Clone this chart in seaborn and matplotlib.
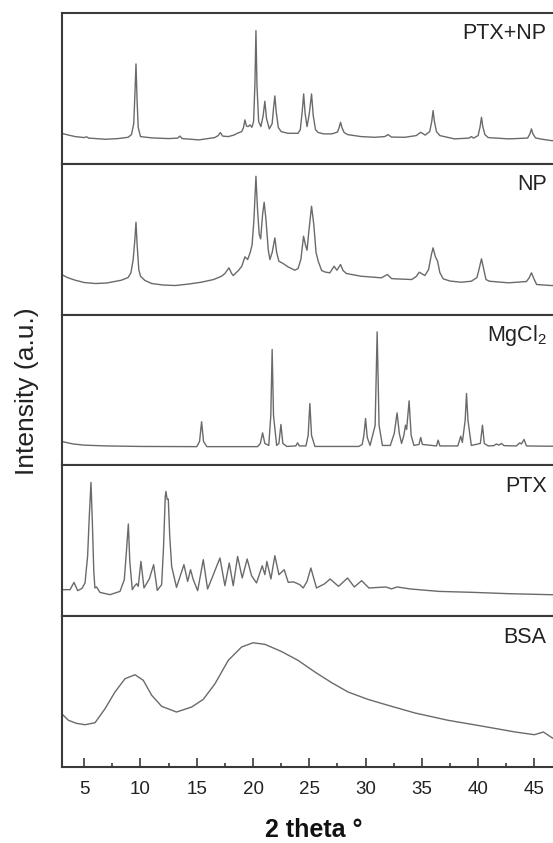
import matplotlib
matplotlib.use("Agg")
import matplotlib.pyplot as plt
from matplotlib.ticker import MultipleLocator
import seaborn as sns
import pandas as pd

# XRD patterns: (2 theta, intensity a.u.)
ptx_np = [
    (3.0, 30.3), (3.6, 28.5), (4.2, 27.0), (5.0, 26.0), (5.2, 26.8), (5.4, 25.5),
    (6.9, 24.3), (8.0, 25.0), (8.9, 26.3), (9.2, 29.0), (9.4, 40.0), (9.5, 68.0),
    (9.6, 99.7), (9.7, 62.0), (9.8, 36.0), (10.0, 27.0), (11.0, 25.7), (12.5, 25.0),
    (13.3, 25.5), (13.5, 27.5), (13.7, 25.0), (15.2, 23.7), (16.6, 26.0), (16.9, 28.0),
    (17.1, 31.0), (17.3, 27.5), (17.8, 27.0), (18.3, 28.5), (18.6, 30.3), (19.0, 32.0),
    (19.15, 36.0), (19.28, 43.7), (19.42, 37.5), (19.55, 37.0), (19.73, 38.7), (19.9, 36.3),
    (20.05, 42.0), (20.17, 80.0), (20.26, 133.0), (20.35, 78.0), (20.5, 42.0), (20.7, 37.0),
    (20.9, 48.0), (21.05, 62.3), (21.2, 45.0), (21.45, 34.7), (21.7, 40.0), (21.82, 55.0),
    (21.94, 67.7), (22.06, 52.0), (22.25, 36.0), (22.5, 32.0), (23.1, 30.3), (24.0, 30.3),
    (24.2, 34.0), (24.37, 52.0), (24.5, 69.7), (24.63, 50.0), (24.8, 37.0), (25.0, 50.0),
    (25.2, 69.7), (25.35, 48.0), (25.55, 34.0), (25.8, 31.0), (26.3, 29.7), (27.0, 29.7),
    (27.5, 31.5), (27.65, 36.0), (27.78, 41.3), (27.9, 36.0), (28.1, 31.0), (28.4, 29.0),
    (29.6, 27.0), (30.8, 26.3), (31.7, 27.0), (32.0, 29.0), (32.3, 26.5), (33.5, 26.3),
    (34.5, 28.0), (34.9, 31.3), (35.3, 28.5), (35.7, 32.0), (35.88, 42.0), (36.0, 53.0),
    (36.12, 42.0), (36.3, 32.0), (36.6, 28.0), (37.9, 24.7), (39.2, 25.5), (39.4, 27.0),
    (39.6, 25.5), (40.0, 28.0), (40.18, 37.0), (40.3, 46.3), (40.42, 37.0), (40.6, 29.0),
    (40.9, 26.0), (42.7, 24.7), (44.4, 25.5), (44.62, 30.0), (44.74, 34.7), (44.86, 30.0),
    (45.1, 25.7), (45.6, 24.5), (46.5, 23.0), (47.0, 22.8),
]

np_only = [
    (3.0, 40.0), (3.5, 37.0), (4.2, 34.3), (5.0, 32.0), (6.0, 31.0), (7.0, 31.5),
    (8.3, 34.3), (8.9, 37.0), (9.15, 41.7), (9.35, 55.0), (9.5, 75.0), (9.6, 92.3),
    (9.7, 70.0), (9.85, 45.0), (10.0, 38.3), (10.4, 34.0), (11.0, 31.0), (12.0, 29.5),
    (13.1, 29.0), (14.3, 30.5), (15.4, 32.3), (16.5, 35.0), (17.2, 38.3), (17.5, 41.0),
    (17.86, 46.7), (18.1, 41.0), (18.24, 39.0), (18.7, 44.0), (19.0, 48.3), (19.28, 57.7),
    (19.52, 55.0), (19.75, 62.0), (19.92, 70.0), (20.08, 95.0), (20.26, 138.3), (20.4, 105.0),
    (20.55, 80.0), (20.68, 75.7), (20.85, 100.0), (20.99, 112.3), (21.15, 95.0), (21.35, 65.0),
    (21.5, 55.0), (21.7, 62.0), (21.94, 76.7), (22.1, 62.0), (22.3, 53.3), (22.68, 51.0),
    (23.1, 47.7), (23.72, 44.3), (24.0, 46.0), (24.25, 55.0), (24.49, 78.3), (24.65, 70.0),
    (24.8, 64.3), (24.95, 82.0), (25.2, 108.3), (25.4, 90.0), (25.6, 62.0), (25.8, 53.0),
    (26.1, 44.0), (26.4, 42.5), (26.83, 41.7), (27.2, 48.3), (27.45, 44.3), (27.78, 50.0),
    (28.0, 44.0), (28.3, 41.0), (29.6, 38.3), (31.4, 36.7), (31.94, 40.0), (32.3, 36.0),
    (32.6, 35.7), (34.1, 35.0), (34.5, 38.0), (34.77, 42.3), (35.27, 39.0), (35.6, 45.0),
    (35.85, 60.0), (36.0, 66.7), (36.2, 58.0), (36.4, 53.3), (36.6, 42.0), (36.9, 35.7),
    (37.5, 33.5), (38.5, 32.3), (39.4, 33.3), (39.9, 37.0), (40.1, 46.0), (40.3, 55.7),
    (40.45, 48.0), (40.7, 35.0), (41.0, 33.3), (42.7, 31.7), (44.3, 33.0), (44.55, 37.0),
    (44.74, 41.7), (44.95, 36.0), (45.2, 30.0), (46.5, 29.0), (47.0, 29.0),
]

mgcl2 = [
    (3.0, 24.0), (4.0, 21.5), (5.0, 20.3), (7.0, 19.5), (10.0, 19.0), (15.0, 18.8),
    (15.25, 24.0), (15.43, 43.7), (15.6, 24.0), (15.9, 18.8), (20.4, 18.8), (20.65, 22.0),
    (20.85, 32.6), (21.05, 22.0), (21.4, 20.0), (21.58, 50.0), (21.7, 116.0), (21.82, 50.0),
    (22.1, 20.0), (22.3, 22.0), (22.48, 41.0), (22.65, 22.0), (23.0, 19.0), (23.8, 19.5),
    (23.96, 22.6), (24.12, 19.5), (24.7, 19.5), (24.9, 30.0), (25.05, 62.0), (25.2, 30.0),
    (25.5, 19.0), (29.4, 19.0), (29.7, 21.0), (29.85, 30.0), (30.0, 47.0), (30.15, 28.0),
    (30.4, 20.0), (30.85, 40.0), (31.03, 133.6), (31.2, 40.0), (31.5, 20.0), (32.2, 20.0),
    (32.55, 32.0), (32.8, 52.6), (33.0, 32.0), (33.2, 22.0), (33.4, 30.0), (33.55, 40.3),
    (33.65, 36.0), (33.87, 64.6), (34.05, 30.0), (34.3, 20.0), (34.75, 21.0), (34.9, 28.0),
    (35.05, 21.0), (36.3, 19.5), (36.45, 25.3), (36.6, 19.5), (38.2, 19.5), (38.46, 29.3),
    (38.6, 23.0), (38.85, 45.0), (38.97, 72.0), (39.1, 45.0), (39.4, 20.0), (40.2, 22.0),
    (40.39, 40.3), (40.55, 22.0), (40.9, 19.5), (41.4, 19.8), (41.63, 21.5), (41.85, 20.3),
    (42.07, 22.0), (42.3, 19.8), (43.4, 19.5), (43.7, 22.6), (43.85, 21.5), (44.08, 26.0),
    (44.3, 19.5), (45.5, 19.3), (47.0, 19.2),
]

ptx = [
    (3.0, 26.7), (3.74, 26.7), (4.09, 34.0), (4.42, 25.7), (4.8, 28.0), (5.07, 33.4),
    (5.3, 60.0), (5.45, 100.0), (5.6, 134.0), (5.72, 95.0), (5.85, 45.0), (5.95, 28.4),
    (6.1, 29.4), (6.4, 24.0), (7.29, 21.7), (8.18, 25.0), (8.56, 36.7), (8.75, 65.0),
    (8.92, 92.4), (9.05, 55.0), (9.27, 26.7), (9.45, 30.0), (9.66, 32.7), (9.8, 30.0),
    (10.04, 55.0), (10.31, 28.4), (10.78, 37.4), (11.17, 51.7), (11.49, 26.0), (11.88, 31.7),
    (12.05, 70.0), (12.2, 120.0), (12.26, 125.0), (12.37, 117.0), (12.47, 117.4), (12.6, 80.0),
    (12.77, 50.0), (13.2, 29.0), (13.86, 51.7), (14.19, 35.0), (14.45, 46.7), (14.69, 36.7),
    (15.08, 25.7), (15.58, 56.7), (15.96, 27.4), (16.32, 37.4), (17.06, 58.4), (17.5, 30.7),
    (17.89, 53.4), (18.24, 30.7), (18.63, 60.0), (19.04, 38.4), (19.48, 57.4), (19.87, 40.7),
    (20.31, 33.4), (20.82, 50.7), (21.05, 41.7), (21.23, 55.0), (21.59, 37.4), (21.94, 60.7),
    (22.3, 41.7), (22.77, 46.7), (23.13, 34.0), (23.6, 34.5), (24.16, 31.7), (24.46, 28.4),
    (24.8, 35.0), (25.14, 48.4), (25.64, 28.4), (26.38, 32.7), (26.85, 37.4), (27.6, 30.0),
    (28.4, 38.4), (29.0, 29.4), (29.65, 35.7), (30.3, 28.4), (31.8, 29.4), (32.3, 27.5),
    (32.8, 29.4), (34.0, 27.4), (36.5, 25.0), (39.6, 24.0), (42.7, 22.7), (46.4, 21.7),
    (47.0, 21.7),
]

bsa = [
    (3.0, 53.6), (3.6, 47.0), (4.3, 44.0), (5.07, 42.6), (5.96, 44.6), (6.85, 58.6),
    (7.73, 75.3), (8.62, 88.6), (9.51, 92.6), (10.25, 87.0), (11.0, 72.0), (11.88, 61.0),
    (13.2, 55.3), (14.55, 60.3), (15.58, 68.0), (16.62, 83.6), (17.8, 107.0), (18.98, 120.3),
    (20.0, 124.6), (21.06, 123.0), (22.5, 116.0), (24.0, 107.0), (25.5, 95.3), (27.0, 84.6),
    (28.45, 75.3), (30.2, 68.0), (32.0, 62.0), (34.4, 54.3), (37.34, 47.0), (40.3, 41.3),
    (43.3, 35.3), (45.0, 32.6), (45.8, 35.3), (46.7, 28.6), (47.0, 27.0),
]

amostras = ["PTX+NP", "NP", r"$\mathregular{MgCl_2}$", "PTX", "BSA"]
padroes = [ptx_np, np_only, mgcl2, ptx, bsa]

sns.set_theme(style="ticks")
plt.rcParams["font.family"] = ["Liberation Sans", "DejaVu Sans"]

fig, axes = plt.subplots(5, 1, figsize=(5.53, 8.43), dpi=100, sharex=True)
fig.subplots_adjust(left=0.1116, right=1.007, top=0.985, bottom=0.0898, hspace=0)

for ax, nome, dados in zip(axes, amostras, padroes):
    df = pd.DataFrame(dados, columns=["theta", "intensidade"])
    sns.lineplot(data=df, x="theta", y="intensidade", ax=ax, color="#6a6a6a",
                 linewidth=1.0, estimator=None, sort=False)
    ax.set_xlim(3, 47)
    ax.set_ylim(0, 151)
    ax.set_xlabel("")
    ax.set_ylabel("")
    ax.set_yticks([])
    for sp in ax.spines.values():
        sp.set_linewidth(1.5)
        sp.set_color("#3a3a3a")
    ax.text(46.1, 130, nome, ha="right", va="center", fontsize=15.5, color="#222222")
    ax.tick_params(axis="x", which="both", bottom=False, labelbottom=False)

# eixo inferior com ticks para dentro
ax = axes[-1]
ax.xaxis.set_major_locator(MultipleLocator(5))
ax.xaxis.set_minor_locator(MultipleLocator(2.5))
ax.set_xticks([5, 10, 15, 20, 25, 30, 35, 40, 45])
ax.tick_params(axis="x", which="major", bottom=True, labelbottom=True, direction="in",
               length=6.3, width=1.2, pad=10, labelsize=13.5, colors="#3a3a3a",
               labelcolor="#222222")
ax.tick_params(axis="x", which="minor", bottom=True, direction="in", length=2.8,
               width=1.2, colors="#3a3a3a")

fig.text(0.049, 0.536, "Intensity (a.u.)", rotation=90, ha="center", va="center",
         fontsize=19, color="#222222")
fig.text(0.567, 0.0154, "2 theta °", ha="center", va="center", fontsize=18,
         fontweight="bold", color="#111111")

plt.savefig("out.png", dpi=100)
